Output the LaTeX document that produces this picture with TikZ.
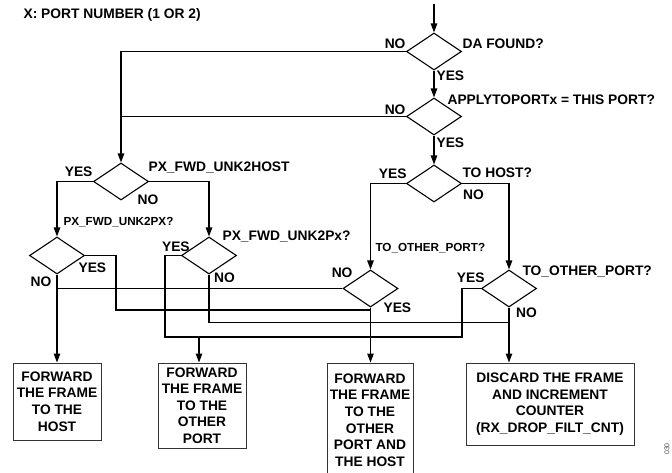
\documentclass[tikz,border=0pt]{standalone}
\usepackage{fontspec}
\setmainfont{Liberation Sans}
\usetikzlibrary{shapes.geometric,arrows.meta}
\begin{document}
\begin{tikzpicture}[x=1pt,y=-1pt,
  line width=1.1pt,
  dia/.style={diamond,draw,minimum width=55pt,minimum height=37pt,inner sep=0pt},
  arr/.style={-{Triangle[length=9pt,width=6.5pt]}},
  lbl/.style={font=\bfseries\fontsize{13.8}{16}\selectfont,inner sep=0pt},
  slbl/.style={font=\bfseries\fontsize{11.7}{14}\selectfont,inner sep=0pt},
  box/.style={draw=black!80,line width=1pt,align=center,inner sep=0pt,
    font=\bfseries\fontsize{13.8}{16.6}\selectfont}
]
\useasboundingbox (0,0) rectangle (672,472);

% diamonds
\node[dia] (d1) at (434,51.5) {};
\node[dia] (d2) at (434,116.5) {};
\node[dia] (d4) at (434,183.5) {};
\node[dia] (d3) at (121,181.5) {};
\node[dia] (d5) at (57,255.5) {};
\node[dia] (d8) at (209,255.5) {};
\node[dia] (d6) at (370.5,288.5) {};
\node[dia] (d7) at (509,288.5) {};

% boxes
\node[box,minimum width=88pt,minimum height=77pt] (b1) at (57,401.5)
  {FORWARD\\THE FRAME\\TO THE\\HOST};
\node[box,minimum width=88pt,minimum height=85pt] (b2) at (202,405.5)
  {FORWARD\\THE FRAME\\TO THE\\OTHER\\PORT};
\node[box,minimum width=86pt,minimum height=114pt] (b3) at (370,420)
  {FORWARD\\THE FRAME\\TO THE\\OTHER\\PORT AND\\THE HOST};
\node[box,minimum width=168pt,minimum height=82pt] (b4) at (550,404)
  {DISCARD THE FRAME\\AND INCREMENT\\COUNTER\\(RX\_DROP\_FILT\_CNT)};

% connectors
\coordinate (top) at (434,4);
\draw[arr] (top) -- (d1.north);
\draw[arr] (d1.south) -- (d2.north);
\draw[arr] (d2.south) -- (d4.north);
\draw[arr] (d1.west) -| (d3.north);
\draw (d2.west) -- (d2.west -| d3.north);
\draw[arr] (d3.west) -| (d5.north);
\draw[arr] (d3.east) -| (d8.north);
\draw[arr] (d4.west) -| (d6.north);
\draw[arr] (d4.east) -| (d7.north);
\draw[arr] (d5.south) -- (b1.north);
\draw (d6.west) -- (d6.west -| d5.south);
\coordinate (j1) at (116,310);
\draw (d5.east) -| (j1) -- (j1 -| d6.south);
\draw[arr] (d6.south) -- (d6.south |- b3.north);
\coordinate (j2) at (509,322.7);
\draw (d8.south) |- (j2);
\draw[arr] (d7.south) -- (d7.south |- b4.north);
\coordinate (j3) at (165,337);
\coordinate (j4) at (462,337);
\draw (d8.west) -| (j3) -- (j4) |- (d7.west);
\coordinate (j5) at (199,337);
\draw[arr] (j5) -- (j5 |- b2.north);

% labels
\node[lbl,anchor=west] at (23,14.5) {X: PORT NUMBER (1 OR 2)};
\node[lbl,anchor=east] at (406,44) {NO};
\node[lbl,anchor=west] at (462,44) {DA FOUND?};
\node[lbl,anchor=west] at (436,75.5) {YES};
\node[lbl,anchor=west] at (447,99.5) {APPLYTOPORTx = THIS PORT?};
\node[lbl,anchor=east] at (406,109.5) {NO};
\node[lbl,anchor=west] at (436,142.5) {YES};
\node[lbl,anchor=east] at (93,171.5) {YES};
\node[lbl,anchor=west] at (148,168) {PX\_FWD\_UNK2HOST};
\node[lbl,anchor=west] at (137,199.5) {NO};
\node[slbl,anchor=west] at (63,222) {PX\_FWD\_UNK2PX?};
\node[lbl,anchor=west] at (78,268) {YES};
\node[lbl,anchor=west] at (30,281.5) {NO};
\node[lbl,anchor=west] at (222,237) {PX\_FWD\_UNK2Px?};
\node[lbl,anchor=west] at (161.5,246.5) {YES};
\node[lbl,anchor=west] at (213.5,278) {NO};
\node[lbl,anchor=east] at (407,174) {YES};
\node[lbl,anchor=west] at (462,173) {TO HOST?};
\node[lbl,anchor=west] at (462.5,195) {NO};
\node[slbl,anchor=west] at (375,248) {TO\_OTHER\_PORT?};
\node[lbl,anchor=east] at (353,273) {NO};
\node[lbl,anchor=west] at (383,308) {YES};
\node[lbl,anchor=east] at (485,278) {YES};
\node[lbl,anchor=west] at (522,272) {TO\_OTHER\_PORT?};
\node[lbl,anchor=west] at (515.5,312.5) {NO};
\node[rotate=90,inner sep=0pt,text=black!70,font=\fontsize{7}{8}\selectfont] at (667,449) {030};
\end{tikzpicture}
\end{document}
